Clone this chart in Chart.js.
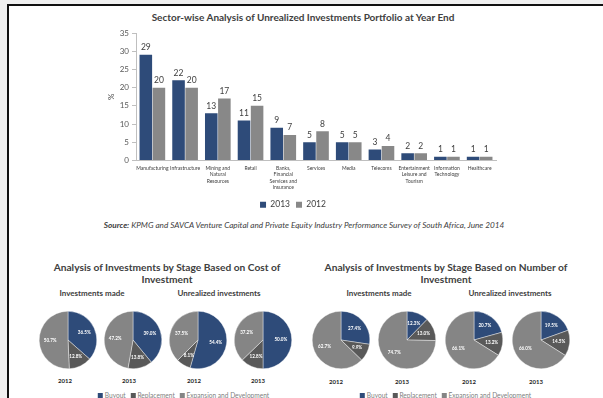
<!DOCTYPE html>
<html><head><meta charset="utf-8">
<script src="https://cdn.jsdelivr.net/npm/chart.js@4"></script>
<style>
html,body{margin:0;padding:0;}
body{width:603px;height:398px;overflow:hidden;background:#f0f0f0;position:relative;font-family:Lato,"Open Sans",sans-serif;color:#404040;}
#frame{position:absolute;left:7px;top:4px;width:610px;height:410px;background:#fff;border-left:2px solid #111;border-top:2px solid #111;}
.abs{position:absolute;white-space:nowrap;}
.ctr{transform:translate(-50%,-50%);text-align:center;}
.title{font-weight:bold;font-size:10px;color:#404040;}
.sec{font-weight:bold;font-size:10.2px;color:#404040;line-height:12px;}
.sub{font-weight:bold;font-size:8px;color:#404040;}
.yr{font-weight:bold;font-size:6px;color:#262626;}
.src{font-style:italic;font-size:8.2px;color:#404040;}
.leg{font-size:6.6px;color:#808080;}
.sw{display:inline-block;width:5px;height:5px;margin:0 2px 0 3px;vertical-align:0px;}
canvas{position:absolute;}
</style>
</head><body>
<div id="frame"></div>
<div class="abs ctr title" style="left:303px;top:17px;">Sector-wise Analysis of Unrealized Investments Portfolio at Year End</div>
<canvas id="bar" width="420" height="195" style="left:90px;top:24px;"></canvas>
<div class="abs ctr src" style="left:304px;top:225px;"><b>Source:</b> KPMG and SAVCA Venture Capital and Private Equity Industry Performance Survey of South Africa, June 2014</div>

<div class="abs ctr sec" style="left:167px;top:273px;">Analysis of Investments by Stage Based on Cost of<br>Investment</div>
<div class="abs ctr sub" style="left:92px;top:293px;">Investments made</div>
<div class="abs ctr sub" style="left:219px;top:293px;">Unrealized investments</div>

<div class="abs ctr sec" style="left:446px;top:273px;">Analysis of Investments by Stage Based on Number of<br>Investment</div>
<div class="abs ctr sub" style="left:379px;top:293px;">Investments made</div>
<div class="abs ctr sub" style="left:510px;top:293px;">Unrealized investments</div>

<canvas id="p1" width="58" height="58" style="left:39px;top:311px;"></canvas>
<canvas id="p2" width="58" height="58" style="left:104px;top:311px;"></canvas>
<canvas id="p3" width="58" height="58" style="left:169px;top:311px;"></canvas>
<canvas id="p4" width="58" height="58" style="left:234px;top:311px;"></canvas>
<canvas id="p5" width="58" height="58" style="left:312px;top:311px;"></canvas>
<canvas id="p6" width="58" height="58" style="left:378px;top:311px;"></canvas>
<canvas id="p7" width="58" height="58" style="left:445px;top:311px;"></canvas>
<canvas id="p8" width="58" height="58" style="left:512px;top:311px;"></canvas>

<div class="abs ctr yr" style="left:65px;top:380px;">2012</div>
<div class="abs ctr yr" style="left:129px;top:380px;">2013</div>
<div class="abs ctr yr" style="left:194px;top:380px;">2012</div>
<div class="abs ctr yr" style="left:258px;top:380px;">2013</div>
<div class="abs ctr yr" style="left:336px;top:381px;">2012</div>
<div class="abs ctr yr" style="left:402px;top:381px;">2013</div>
<div class="abs ctr yr" style="left:469px;top:381px;">2012</div>
<div class="abs ctr yr" style="left:536px;top:381px;">2013</div>

<div class="abs ctr leg" id="legL" style="left:182px;top:395px;"></div>
<div class="abs ctr leg" id="legR" style="left:444px;top:395px;"></div>

<script>
// ---- data ----
const sectors = [['Manufacturing'],['Infrastructure'],['Mining and','Natural','Resources'],['Retail'],['Banks,','Financial','Services and','Insurance'],['Services'],['Media'],['Telecoms'],['Entertainment','Leisure and','Tourism'],['Information','Technology'],['Healthcare']];
const values2013 = [29,22,13,11,9,5,5,3,2,1,1];
const values2012 = [20,20,17,15,7,8,5,4,2,1,1];
const seriesNames = ['2013','2012'];
const yMax = 35;
const yStep = 5;

const stages = ['Buyout','Replacement','Expansion and Development'];
const costMade2012 = [36.5, 12.8, 50.7];
const costMade2013 = [39.0, 13.8, 47.2];
const costUnreal2012 = [54.4, 8.1, 37.5];
const costUnreal2013 = [50.0, 12.8, 37.2];
const numMade2012 = [27.4, 9.9, 62.7];
const numMade2013 = [12.3, 13.0, 74.7];
const numUnreal2012 = [20.7, 13.2, 66.1];
const numUnreal2013 = [19.5, 14.5, 66.0];

// ---- styles ----
const BLUE = '#2e4b79', GRAY = '#888888', DARK = '#595959', LIGHT = '#858585';
const FONT = 'Lato';
Chart.defaults.font.family = FONT;
Chart.defaults.animation = false;

const barLabels = {
  id: 'barLabels',
  afterDatasetsDraw(chart) {
    const ctx = chart.ctx;
    ctx.save();
    ctx.font = '8.5px ' + FONT;
    ctx.fillStyle = '#404040';
    ctx.textAlign = 'center';
    ctx.textBaseline = 'bottom';
    chart.data.datasets.forEach((ds, i) => {
      chart.getDatasetMeta(i).data.forEach((bar, j) => {
        ctx.fillText(String(ds.data[j]), bar.x, bar.y - 3);
      });
    });
    ctx.restore();
  }
};

new Chart(document.getElementById('bar'), {
  type: 'bar',
  data: {
    labels: sectors,
    datasets: [
      { label: seriesNames[0], data: values2013, backgroundColor: BLUE },
      { label: seriesNames[1], data: values2012, backgroundColor: GRAY }
    ]
  },
  options: {
    responsive: false,
    layout: { padding: { top: 9, right: 14, left: 0, bottom: 0 } },
    datasets: { bar: { categoryPercentage: 0.8, barPercentage: 0.96 } },
    plugins: {
      legend: {
        position: 'bottom',
        labels: { boxWidth: 6, boxHeight: 6, padding: 6, font: { size: 8.5 }, color: '#404040' }
      },
      tooltip: { enabled: false }
    },
    scales: {
      x: {
        grid: { display: false, drawTicks: false },
        border: { display: true, color: '#bfbfbf' },
        ticks: { autoSkip: false, maxRotation: 0, minRotation: 0, padding: 5, color: '#404040', font: { size: 5, lineHeight: 1.25 } },
        afterFit(s) { s.height = 34; }
      },
      y: {
        min: 0, max: yMax,
        ticks: { stepSize: yStep, color: '#595959', font: { size: 8 }, padding: 3 },
        grid: { drawOnChartArea: false, drawTicks: true, tickLength: 4, color: '#bfbfbf' },
        border: { display: true, color: '#bfbfbf' },
        title: { display: true, text: '%', color: '#404040', font: { size: 8 }, padding: { top: 17, bottom: 0 } },
        afterFit(s) { s.width = 46; }
      }
    }
  },
  plugins: [barLabels]
});

const pieLabels = {
  id: 'pieLabels',
  afterDatasetsDraw(chart) {
    const ctx = chart.ctx;
    ctx.save();
    ctx.font = 'bold 4.6px ' + FONT;
    ctx.fillStyle = '#ffffff';
    ctx.textAlign = 'center';
    ctx.textBaseline = 'middle';
    const ds = chart.data.datasets[0];
    chart.getDatasetMeta(0).data.forEach((arc, j) => {
      const a = (arc.startAngle + arc.endAngle) / 2;
      const r = arc.outerRadius * 0.62;
      ctx.fillText(ds.data[j].toFixed(1) + '%', arc.x + Math.cos(a) * r, arc.y + Math.sin(a) * r);
    });
    ctx.restore();
  }
};

function makePie(id, values) {
  new Chart(document.getElementById(id), {
    type: 'pie',
    data: {
      labels: stages,
      datasets: [{ data: values, backgroundColor: [BLUE, DARK, LIGHT], borderColor: '#ffffff', borderWidth: 0.4 }]
    },
    options: {
      responsive: false,
      layout: { padding: 0 },
      plugins: { legend: { display: false }, tooltip: { enabled: false } }
    },
    plugins: [pieLabels]
  });
}
makePie('p1', costMade2012);
makePie('p2', costMade2013);
makePie('p3', costUnreal2012);
makePie('p4', costUnreal2013);
makePie('p5', numMade2012);
makePie('p6', numMade2013);
makePie('p7', numUnreal2012);
makePie('p8', numUnreal2013);

// pie legends (text from stage names)
function buildLegend(elId) {
  const cols = [BLUE, DARK, LIGHT];
  const el = document.getElementById(elId);
  stages.forEach((s, i) => {
    const sw = document.createElement('span');
    sw.className = 'sw';
    sw.style.background = cols[i];
    el.appendChild(sw);
    el.appendChild(document.createTextNode(s + ' '));
  });
}
buildLegend('legL');
buildLegend('legR');
</script>
</body></html>
